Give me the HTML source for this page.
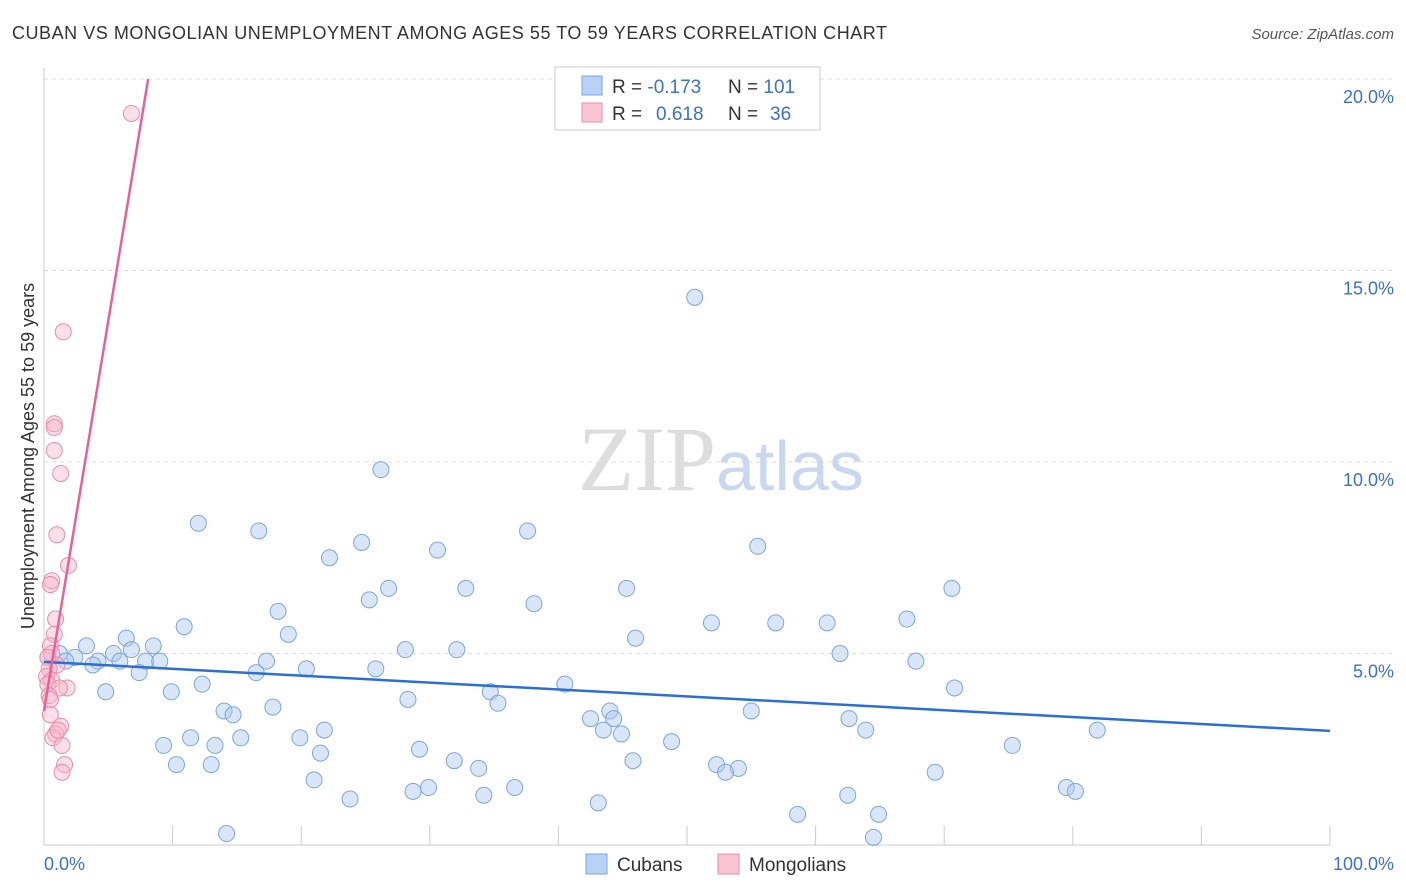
<!DOCTYPE html>
<html><head><meta charset="utf-8">
<style>
body{margin:0;background:#fff;font-family:"Liberation Sans",sans-serif;}
svg{display:block}
</style></head>
<body>
<svg id="chart" width="1406" height="892">
<text x="12" y="39" font-size="18" fill="#333" textLength="875" lengthAdjust="spacing">CUBAN VS MONGOLIAN UNEMPLOYMENT AMONG AGES 55 TO 59 YEARS CORRELATION CHART</text>
<text x="1394" y="39" font-size="15" fill="#555" font-style="italic" text-anchor="end">Source: ZipAtlas.com</text>
<text x="34" y="456" font-size="18" fill="#333" text-anchor="middle" transform="rotate(-90 34 456)">Unemployment Among Ages 55 to 59 years</text>
<g id="grid"></g>
<text x="716" y="490" font-size="92" fill="#ddd" text-anchor="end" font-family="Liberation Serif,serif">ZIP</text>
<text x="716" y="490" font-size="70" fill="#c9d8f0">atlas</text>
<g id="marks"></g>
<g>
<rect x="555" y="67" width="265" height="63" fill="#fff" stroke="#ccc"/>
<rect x="582" y="76" width="20" height="19" fill="#b7d2f5" stroke="#7aa6e0"/>
<rect x="582" y="103" width="20" height="19" fill="#f9c4d3" stroke="#ee8aa8"/>
<text x="612" y="93" font-size="19" fill="#333">R = <tspan fill="#3a70d4">-0.173</tspan><tspan x="728">N = </tspan><tspan fill="#3a70d4">101</tspan></text>
<text x="612" y="120" font-size="19" fill="#333">R = <tspan x="656" fill="#3a70d4">0.618</tspan><tspan x="728">N = </tspan><tspan x="770" fill="#3a70d4">36</tspan></text>
</g>
<g>
<rect x="586" y="854" width="21" height="20" fill="#b7d2f5" stroke="#7aa6e0"/>
<text x="617" y="871" font-size="19" fill="#333">Cubans</text>
<rect x="718" y="854" width="21" height="20" fill="#f9c4d3" stroke="#ee8aa8"/>
<text x="749" y="871" font-size="19" fill="#333">Mongolians</text>
</g>
</svg>
<script>
const yTicks=[5,10,15,20];
const yTickLabels=["5.0%","10.0%","15.0%","20.0%"];
const xTickLabels=["0.0%","100.0%"];
const cubanX=[50.6,26.2,12.0,16.7,37.6,55.5,24.7,30.6,22.2,70.6,45.3,26.8,32.8,25.3,38.1,18.2,67.1,51.9,56.9,60.9,10.9,19.0,46.0,6.4,8.5,3.3,5.4,6.8,28.1,32.1,61.9,1.2,0.3,2.4,4.2,5.9,7.9,9.0,1.7,3.8,67.8,17.3,20.4,25.8,16.5,7.4,40.5,12.3,4.8,9.9,70.8,34.7,28.3,35.3,17.8,14.0,14.7,44.0,55.0,42.5,44.3,62.6,21.8,43.5,63.9,81.9,44.9,11.4,15.3,19.9,9.3,13.3,48.8,75.3,29.2,21.5,45.8,31.9,10.3,13.0,52.3,54.0,33.8,53.0,69.3,21.0,36.6,29.9,28.7,79.5,80.2,34.2,62.5,23.8,43.1,58.6,64.9,14.2,64.5];
const cubanY=[14.3,9.8,8.4,8.2,8.2,7.8,7.9,7.7,7.5,6.7,6.7,6.7,6.7,6.4,6.3,6.1,5.9,5.8,5.8,5.8,5.7,5.5,5.4,5.4,5.2,5.2,5.0,5.1,5.1,5.1,5.0,5.0,4.9,4.9,4.8,4.8,4.8,4.8,4.8,4.7,4.8,4.8,4.6,4.6,4.5,4.5,4.2,4.2,4.0,4.0,4.1,4.0,3.8,3.7,3.6,3.5,3.4,3.5,3.5,3.3,3.3,3.3,3.0,3.0,3.0,3.0,2.9,2.8,2.8,2.8,2.6,2.6,2.7,2.6,2.5,2.4,2.2,2.2,2.1,2.1,2.1,2.0,2.0,1.9,1.9,1.7,1.5,1.5,1.4,1.5,1.4,1.3,1.3,1.2,1.1,0.8,0.8,0.3,0.2];
const mongolX=[6.8,1.5,0.8,0.8,0.8,1.3,1.0,1.9,0.6,0.5,0.9,0.8,0.5,0.6,0.3,1.0,0.4,0.2,0.6,0.3,1.8,1.2,0.4,0.5,0.5,1.3,0.9,0.7,1.1,1.4,1.6,1.4];
const mongolY=[19.1,13.4,11.0,10.9,10.3,9.7,8.1,7.3,6.9,6.8,5.9,5.5,5.2,5.0,4.9,4.7,4.6,4.4,4.3,4.2,4.1,4.1,3.9,3.8,3.4,3.1,2.9,2.8,3.0,2.6,2.1,1.9];
const cubanTrend=[4.78,2.98];
const mongolTrend=[[0,3.5],[8.1,20]];
const NS="http://www.w3.org/2000/svg";
const X=v=>44+v*12.86, Y=v=>845-v*38.3;
const grid=document.getElementById('grid'), marks=document.getElementById('marks');
function mk(tag,attrs,parent){const e=document.createElementNS(NS,tag);for(const k in attrs)e.setAttribute(k,attrs[k]);parent.appendChild(e);return e;}
yTicks.forEach((t,i)=>{
  const l=mk('line',{x1:44,x2:1394,y1:Y(t),y2:Y(t),stroke:'#ddd','stroke-dasharray':'4,4'},grid);
  
  
  const tx=mk('text',{x:1394,y:Y(t)+24,'font-size':18,fill:'#3a70d4','text-anchor':'end'},grid);
  tx.textContent=yTickLabels[i];
  
  
});
const ax=mk('line',{x1:44,x2:1330,y1:845,y2:845,stroke:'#ccc'},grid);


const ay=mk('line',{x1:44,x2:44,y1:68,y2:845,stroke:'#ccc'},grid);


for(let i=1;i<=10;i++){
  const t=mk('line',{x1:X(i*10),x2:X(i*10),y1:826,y2:845,stroke:'#ccc'},grid);
  
  
}
[[0,'start'],[100,'end']].forEach((p,i)=>{
  const t=mk('text',{x:i?1394:44,y:870,'font-size':18,fill:'#3a70d4','text-anchor':p[1]},grid);
  t.textContent=xTickLabels[i];
  
  
});
cubanX.forEach((x,i)=>{
  const c=mk('circle',{cx:X(x),cy:Y(cubanY[i]),r:8,fill:'rgba(170,200,240,0.45)',stroke:'#7aa6e0','stroke-width':1},marks);
  
  
});
mongolX.forEach((x,i)=>{
  const c=mk('circle',{cx:X(x),cy:Y(mongolY[i]),r:8,fill:'rgba(248,185,205,0.45)',stroke:'#ee8aa8','stroke-width':1},marks);
  
  
});
const bl=mk('line',{x1:X(0),y1:Y(cubanTrend[0]),x2:X(100),y2:Y(cubanTrend[1]),stroke:'#2a6fd6','stroke-width':2.5},marks);


const pl=mk('line',{x1:X(mongolTrend[0][0]),y1:Y(mongolTrend[0][1]),x2:X(mongolTrend[1][0]),y2:Y(mongolTrend[1][1]),stroke:'#e8609a','stroke-width':2.5},marks);


</script>
</body></html>
